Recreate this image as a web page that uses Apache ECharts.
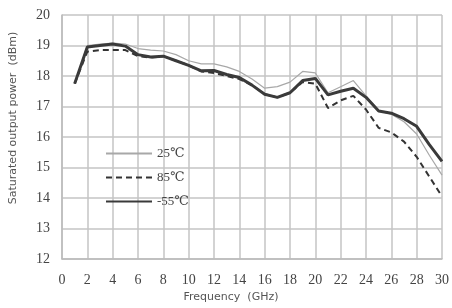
<!DOCTYPE html>
<html>
<head>
<meta charset="utf-8">
<script src="https://cdn.jsdelivr.net/npm/echarts@6/dist/echarts.min.js"></script>
<style>
  html, body { margin: 0; padding: 0; background: #fff; }
  #chart { width: 452px; height: 308px; }
</style>
</head>
<body>
<div id="chart"></div>
<script>
// frequency points (GHz)
var freq = [1, 2, 3, 4, 5, 6, 7, 8, 9, 10, 11, 12, 13, 14, 15, 16, 17, 18, 19, 20, 21, 22, 23, 24, 25, 26, 27, 28, 29, 30];

// saturated output power (dBm) per temperature
var t25 = [17.75, 19.0, 19.05, 19.08, 19.05, 18.9, 18.85, 18.82, 18.7, 18.5, 18.4, 18.4, 18.3, 18.15, 17.9,
           17.6, 17.65, 17.8, 18.15, 18.1, 17.45, 17.65, 17.85, 17.35, 16.85, 16.75, 16.5, 16.1, 15.4, 14.75];
var t85 = [17.75, 18.8, 18.85, 18.85, 18.85, 18.65, 18.6, 18.65, 18.5, 18.35, 18.15, 18.1, 18.0, 17.9, 17.7,
           17.4, 17.3, 17.45, 17.8, 17.75, 16.95, 17.2, 17.35, 16.9, 16.3, 16.15, 15.85, 15.35, 14.7, 14.05];
var tm55 = [17.75, 18.95, 19.0, 19.05, 18.98, 18.7, 18.62, 18.65, 18.5, 18.35, 18.17, 18.18, 18.05, 17.95, 17.7,
            17.4, 17.3, 17.45, 17.85, 17.92, 17.38, 17.5, 17.6, 17.3, 16.85, 16.78, 16.6, 16.35, 15.75, 15.2];

function pairs(ys) {
    return freq.map(function (f, i) { return [f, ys[i]]; });
}

var chart = echarts.init(document.getElementById('chart'));
var serif = '"Liberation Serif", "DejaVu Serif", serif';

chart.setOption({
    animation: false,
    backgroundColor: '#fff',
    grid: { left: 62, right: 6, top: 15, bottom: 49 },
    legend: {
        orient: 'vertical',
        left: 100,
        top: 142,
        itemWidth: 46,
        itemHeight: 14,
        itemGap: 11,
        itemStyle: { opacity: 0 },
        textStyle: { fontFamily: serif, fontSize: 13, color: '#444' },
        data: ['25℃', '85℃', '-55℃']
    },
    xAxis: {
        type: 'value',
        min: 0, max: 30, interval: 2,
        name: 'Frequency  (GHz)',
        nameLocation: 'middle',
        nameGap: 26,
        nameTextStyle: { fontFamily: '"DejaVu Sans", sans-serif', fontSize: 11, color: '#555', padding: [0, 42, 0, 0] },
        axisLine: { lineStyle: { color: '#bbb', width: 1.5 } },
        axisTick: { show: false },
        axisLabel: { fontFamily: serif, fontSize: 14, color: '#444', margin: 14 },
        splitLine: { show: true, lineStyle: { color: '#c4c4c4', width: 1.5 } }
    },
    yAxis: {
        type: 'value',
        min: 12, max: 20, interval: 1,
        name: 'Saturated output power  (dBm)',
        nameLocation: 'middle',
        nameGap: 43,
        nameTextStyle: { fontFamily: '"DejaVu Sans", sans-serif', fontSize: 11, color: '#555', padding: [0, 0, 0, 38] },
        axisLine: { show: true, lineStyle: { color: '#bbb', width: 1.5 } },
        axisTick: { show: false },
        axisLabel: { fontFamily: serif, fontSize: 14, color: '#444', margin: 12 },
        splitLine: { show: true, lineStyle: { color: '#c4c4c4', width: 1.5 } }
    },
    series: [
        {
            name: '25℃', type: 'line', symbol: 'none', data: pairs(t25),
            lineStyle: { color: '#a8a8a8', width: 1.2 }, itemStyle: { color: '#a8a8a8' }, z: 3
        },
        {
            name: '85℃', type: 'line', symbol: 'none', data: pairs(t85),
            lineStyle: { color: '#333', width: 2, type: [6, 4] }, itemStyle: { color: '#333' }, z: 4
        },
        {
            name: '-55℃', type: 'line', symbol: 'none', data: pairs(tm55),
            lineStyle: { color: '#3a3a3a', width: 3 }, itemStyle: { color: '#3a3a3a' }, z: 5
        }
    ]
});
</script>
</body>
</html>
